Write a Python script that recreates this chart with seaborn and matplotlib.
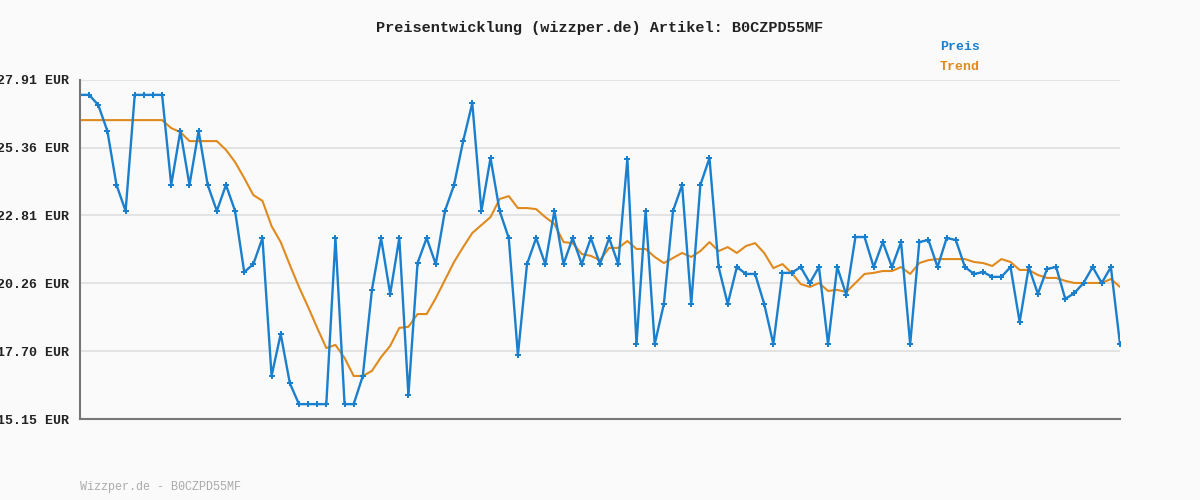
import matplotlib
matplotlib.use("Agg")
import matplotlib.pyplot as plt
import seaborn as sns
import pandas as pd

# ==========================================
# DATA
# ==========================================
preis = [27.35, 27.35, 26.97, 25.99, 23.96, 22.98, 27.35, 27.35, 27.35, 27.35,
         23.96, 25.99, 23.96, 25.99, 23.96, 22.98, 23.96, 22.98, 20.68, 20.98,
         21.96, 16.77, 18.35, 16.50, 15.71, 15.71, 15.71, 15.71, 21.96, 15.71,
         15.71, 16.77, 20.01, 21.96, 19.86, 21.96, 16.05, 21.02, 21.96,
         20.98, 22.98, 23.96, 25.61, 27.04, 22.98, 24.97, 22.98, 21.96, 17.56,
         20.98, 21.96, 20.98, 22.98, 20.98, 21.96, 20.98, 21.96, 20.98, 21.96,
         20.98, 24.94, 17.97, 22.98, 17.97, 19.48, 22.98, 23.96, 19.48, 23.96,
         24.97, 20.87, 19.48, 20.87, 20.61, 20.61, 19.48, 17.97,
         20.65, 20.65, 20.87, 20.27, 20.87, 17.97, 20.87, 19.82, 22.00, 22.00,
         20.87, 21.81, 20.87, 21.81, 17.97, 21.81, 21.89, 20.87, 21.96, 21.89,
         20.87, 20.61, 20.68, 20.50, 20.50, 20.87, 18.80, 20.87, 19.86, 20.80,
         20.87, 19.67, 19.89, 20.27, 20.87, 20.27, 20.87, 17.97]

trend = [26.40] * 10 + [
         26.10, 25.95, 25.61, 25.61, 25.61, 25.61, 25.28, 24.82, 24.22, 23.58,
         23.36, 22.41, 21.81, 20.95, 20.12, 19.37, 18.58, 17.82, 17.94, 17.45,
         16.77, 16.77, 16.96, 17.48, 17.90, 18.58, 18.62, 19.10, 19.10,
         19.70, 20.38, 21.06, 21.62, 22.15, 22.45, 22.75, 23.43, 23.54, 23.09,
         23.09, 23.05, 22.75, 22.49, 21.81, 21.77, 21.36, 21.29, 21.13, 21.59,
         21.59, 21.85, 21.55, 21.55, 21.25, 21.02, 21.21, 21.40, 21.25, 21.47,
         21.81, 21.47, 21.62, 21.40, 21.66, 21.77, 21.40, 20.83,
         20.98, 20.65, 20.23, 20.12, 20.27, 19.97, 20.01, 19.93, 20.27, 20.61,
         20.65, 20.72, 20.72, 20.87, 20.61, 21.02, 21.13, 21.17, 21.17, 21.17,
         21.17, 21.06, 21.02, 20.91, 21.17, 21.06, 20.76, 20.76, 20.57, 20.46,
         20.46, 20.35, 20.27, 20.27, 20.27, 20.27, 20.42, 20.12]

y_ticks = [15.15, 17.70, 20.26, 22.81, 25.36, 27.91]
y_labels = [f"{v:.2f} EUR" for v in y_ticks]

df = pd.DataFrame({"idx": range(len(preis)), "Preis": preis, "Trend": trend})

# ==========================================
# PLOT
# ==========================================
sns.set_style("white")
plt.rcParams["font.family"] = ["Liberation Mono", "DejaVu Sans Mono"]

fig = plt.figure(figsize=(12, 5), dpi=100, facecolor="#fafafa")
ax = fig.add_axes([80 / 1200, 81 / 500, 1040 / 1200, 339 / 500])
ax.set_facecolor("#fafafa")

blue = "#1a7fcc"
orange = "#e08a1e"
sns.lineplot(data=df, x="idx", y="Trend", ax=ax, color=orange, linewidth=1.5)
sns.lineplot(data=df, x="idx", y="Preis", ax=ax, color=blue, linewidth=1.7,
             marker="P", markersize=4, markeredgewidth=0)

ax.set_xlim(0, len(preis) - 1)
ax.set_ylim(y_ticks[0], y_ticks[-1])
ax.set_yticks(y_ticks)
ax.set_yticklabels(y_labels, fontsize=9.5, color="#222222", fontweight="bold")
ax.set_xticks([])
ax.set_xlabel("")
ax.set_ylabel("")
ax.tick_params(axis="y", length=0, pad=8)
ax.grid(axis="y", color="#e3e3e3", linewidth=1.5)
for s in ["top", "right"]:
    ax.spines[s].set_visible(False)
ax.spines["left"].set_color("#777777")
ax.spines["left"].set_linewidth(1.5)
ax.spines["bottom"].set_color("#777777")
ax.spines["bottom"].set_linewidth(1.5)

fig.text(0.5, 1 - 28 / 500, "Preisentwicklung (wizzper.de) Artikel: B0CZPD55MF",
         ha="center", va="center", fontsize=11, color="#222222", fontweight="bold")
fig.text(940 / 1200, 1 - 47 / 500, "Preis", color=blue, fontsize=9.5,
         fontweight="bold", va="center")
fig.text(940 / 1200, 1 - 67 / 500, "Trend", color=orange, fontsize=9.5,
         fontweight="bold", va="center")
fig.text(80 / 1200, 1 - 487 / 500, "Wizzper.de - B0CZPD55MF", color="#aaaaaa",
         fontsize=8.5, va="center")

fig.savefig("out.png", dpi=100, facecolor=fig.get_facecolor())
